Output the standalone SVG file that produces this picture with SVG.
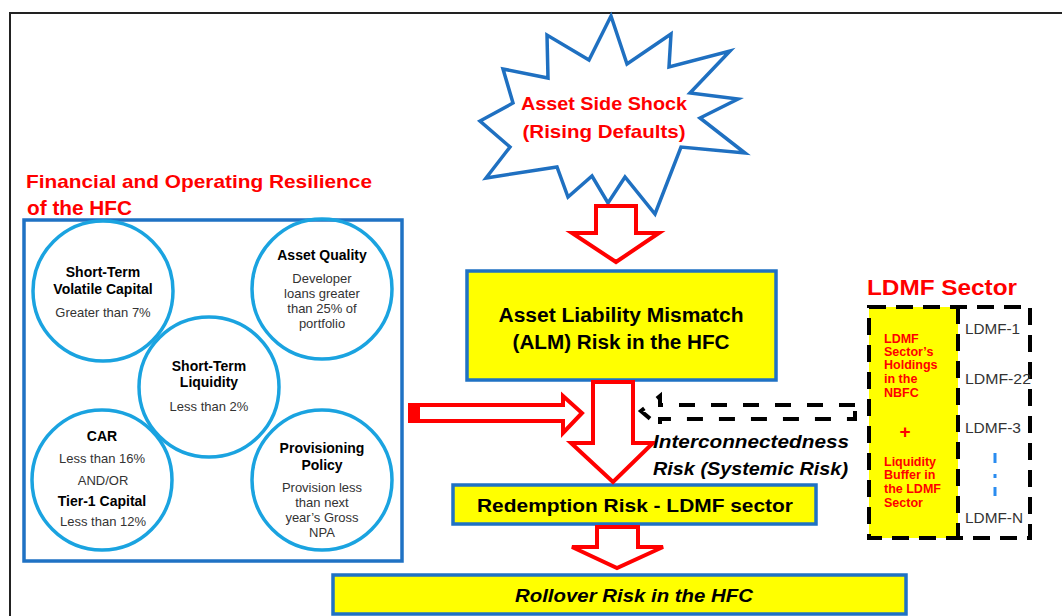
<svg xmlns="http://www.w3.org/2000/svg" width="1062" height="616" viewBox="0 0 1062 616">
<style>
text{font-family:"Liberation Sans",Arial,sans-serif}
.red{fill:#ff0000;font-weight:bold}
.ct{font-size:14px;font-weight:bold;fill:#000;text-anchor:middle}
.cb{font-size:13px;fill:#333;text-anchor:middle}
.circ{fill:none;stroke:#1aa3e0;stroke-width:3.5}
.ybox{fill:#ffff00;stroke:#1f72c4;stroke-width:3.5}
.bt{font-weight:bold;fill:#000;text-anchor:middle}
.arr{fill:#fff;stroke:#ff0000;stroke-width:4;stroke-linejoin:miter}
.dash{fill:none;stroke:#000;stroke-width:4;stroke-dasharray:17 10}
.lt{font-size:14px;fill:#333}
.rt{font-size:12.5px;font-weight:bold;fill:#ff0000}
</style>
<rect width="1062" height="616" fill="#fff"/>
<path id="frame" d="M10,616 V13 H1062" fill="none" stroke="#222" stroke-width="2"/>

<g id="shock">
<polygon points="611,16 627,64 671,34 669,67 730,51 690,93 738,99 700,118 745,153 681,147 655,214 625,177 608,203 592,176 568,197 557,167 486,178 510,147 480,121 513,103 503,69 548,78 547,35 589,60" fill="#fff" stroke="#1f70c1" stroke-width="3.5" stroke-linejoin="miter"/>
<text x="604" y="110" class="red" font-size="19" text-anchor="middle" textLength="166" lengthAdjust="spacingAndGlyphs">Asset Side Shock</text>
<text x="604" y="138" class="red" font-size="19" text-anchor="middle" textLength="163" lengthAdjust="spacingAndGlyphs">(Rising Defaults)</text>
</g>

<g id="resilience-title">
<text x="26" y="188" class="red" font-size="19" textLength="346" lengthAdjust="spacingAndGlyphs">Financial and Operating Resilience</text>
<text x="27" y="215" class="red" font-size="21" textLength="105" lengthAdjust="spacingAndGlyphs">of the HFC</text>
</g>

<g id="resilience-box">
<rect x="24" y="220" width="378" height="341" fill="none" stroke="#1f72c4" stroke-width="3.5"/>
</g>

<g id="volatile-capital">
<circle class="circ" cx="103" cy="291" r="70"/>
<text class="ct" x="103" y="277">Short-Term</text>
<text class="ct" x="103" y="294">Volatile Capital</text>
<text class="cb" x="103" y="317">Greater than 7%</text>
</g>
<g id="asset-quality">
<circle class="circ" cx="322" cy="289" r="70"/>
<text class="ct" x="322" y="260">Asset Quality</text>
<text class="cb" x="322" y="283">Developer</text>
<text class="cb" x="322" y="298">loans greater</text>
<text class="cb" x="322" y="313">than 25% of</text>
<text class="cb" x="322" y="328">portfolio</text>
</g>
<g id="car">
<circle class="circ" cx="102" cy="480" r="70"/>
<text class="ct" x="102" y="441">CAR</text>
<text class="cb" x="102" y="463">Less than 16%</text>
<text class="cb" x="103" y="485">AND/OR</text>
<text class="ct" x="102" y="506">Tier-1 Capital</text>
<text class="cb" x="103" y="526">Less than 12%</text>
</g>
<g id="provisioning">
<circle class="circ" cx="322" cy="480" r="70"/>
<text class="ct" x="322" y="453">Provisioning</text>
<text class="ct" x="322" y="470">Policy</text>
<text class="cb" x="322" y="492">Provision less</text>
<text class="cb" x="322" y="507">than next</text>
<text class="cb" x="322" y="522">year’s Gross</text>
<text class="cb" x="322" y="537">NPA</text>
</g>
<g id="liquidity">
<circle class="circ" cx="209" cy="387" r="70"/>
<text class="ct" x="209" y="371">Short-Term</text>
<text class="ct" x="209" y="387">Liquidity</text>
<text class="cb" x="209" y="411">Less than 2%</text>
</g>

<g id="alm">
<rect class="ybox" x="467" y="271" width="309" height="109"/>
<text class="bt" x="621" y="322" font-size="20" textLength="245" lengthAdjust="spacingAndGlyphs">Asset Liability Mismatch</text>
<text class="bt" x="621" y="349" font-size="20" textLength="217" lengthAdjust="spacingAndGlyphs">(ALM) Risk in the HFC</text>
</g>

<g id="redemption">
<rect class="ybox" x="453" y="485" width="363" height="39"/>
<text class="bt" x="635" y="512" font-size="19" textLength="316" lengthAdjust="spacingAndGlyphs">Redemption Risk - LDMF sector</text>
</g>

<g id="rollover">
<rect class="ybox" x="333" y="575" width="573" height="39"/>
<text class="bt" x="634" y="602" font-size="19" font-style="italic" textLength="238" lengthAdjust="spacingAndGlyphs">Rollover Risk in the HFC</text>
</g>

<g id="ldmf-sector">
<text x="867" y="295" class="red" font-size="22" textLength="150" lengthAdjust="spacingAndGlyphs">LDMF Sector</text>
<rect x="869" y="307" width="89" height="231" fill="#ffff00"/>
<rect class="dash" x="869" y="307" width="161" height="231"/>
<line class="dash" x1="958" y1="307" x2="958" y2="538"/>
<text class="rt" x="884" y="343">LDMF</text>
<text class="rt" x="884" y="356">Sector’s</text>
<text class="rt" x="884" y="369">Holdings</text>
<text class="rt" x="884" y="383">in the</text>
<text class="rt" x="884" y="397">NBFC</text>
<text class="rt" x="905" y="438" style="font-size:19px" text-anchor="middle">+</text>
<text class="rt" x="884" y="466">Liquidity</text>
<text class="rt" x="884" y="479">Buffer in</text>
<text class="rt" x="884" y="493">the LDMF</text>
<text class="rt" x="884" y="507">Sector</text>
<text class="lt" x="965" y="334" textLength="55" lengthAdjust="spacingAndGlyphs">LDMF-1</text>
<text class="lt" x="965" y="384" textLength="66" lengthAdjust="spacingAndGlyphs">LDMF-22</text>
<text class="lt" x="965" y="433" textLength="56" lengthAdjust="spacingAndGlyphs">LDMF-3</text>
<text class="lt" x="965" y="523" textLength="58" lengthAdjust="spacingAndGlyphs">LDMF-N</text>
<path d="M995,453 V463 M995,474 V478 M995,487 V496" stroke="#2a8cf0" stroke-width="3"/>
</g>

<g id="connectors">
<path class="arr" d="M596,206 H636 V233 H659 L616,262 L572,233 H596 Z"/>
<path class="arr" d="M593,382 H633 V443 H653 L613,482 L571,443 H593 Z"/>
<path class="arr" d="M597,527 H638 V547 H663 L617,568 L572,547 H597 Z"/>
<path class="arr" d="M418,405 H563 V396 L582,413 L563,433 V421 H418 Z"/>
<rect x="408" y="403" width="11" height="20" fill="#ff0000"/>
<path d="M855,405 H660 V396 L641,411 L660,427 V419 H855 Z" fill="none" stroke="#000" stroke-width="4" stroke-dasharray="16 16"/>
<text x="653" y="448" font-size="19" font-weight="bold" font-style="italic" fill="#000" textLength="196" lengthAdjust="spacingAndGlyphs">Interconnectedness</text>
<text x="653" y="475" font-size="19" font-weight="bold" font-style="italic" fill="#000" textLength="195" lengthAdjust="spacingAndGlyphs">Risk (Systemic Risk)</text>
</g>
</svg>
